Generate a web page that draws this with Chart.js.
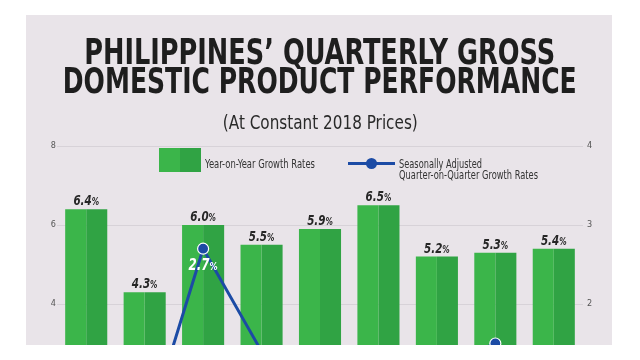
<!DOCTYPE html>
<html>
<head>
<meta charset="utf-8">
<script src="https://cdn.jsdelivr.net/npm/chart.js@4.4.1/dist/chart.umd.min.js"></script>
<style>
html, body { margin: 0; padding: 0; background: #fff; width: 640px; height: 360px; overflow: hidden; }
body { font-family: "Liberation Sans Narrow", "DejaVu Sans Condensed", "Liberation Sans", sans-serif; color: #1f1f1f; }
#panel { position: absolute; left: 26px; top: 15px; width: 586px; height: 330px; background: #e9e4e9; overflow: hidden; }
#chart { position: absolute; left: -26px; top: -15px; }
.t { position: absolute; white-space: nowrap; line-height: 1; }
.t.c { left: -500px; width: 1640px; text-align: center; }
.t span { display: inline-block; }
.t.c span { transform-origin: center; }
.t.l span { transform-origin: left; }
.title { font-size: 36px; font-weight: bold; color: #1e1e1e; }
.sub { font-size: 19px; color: #2a2a2a; }
.leg { font-size: 13px; color: #333; }
#sw { position: absolute; left: 159px; top: 148px; width: 42px; height: 24px; background: linear-gradient(90deg, #3bb54a 50%, #30a344 50%); }
#ln { position: absolute; left: 348px; top: 162px; width: 47px; height: 3px; background: #1c4ba5; }
#dot { position: absolute; left: 366px; top: 158px; width: 11px; height: 11px; border-radius: 50%; background: #1c4ba5; }
</style>
</head>
<body>
<div id="panel"><canvas id="chart" width="640" height="480"></canvas></div>

<div class="t c title" style="top:34px"><span data-w="471">PHILIPPINES’ QUARTERLY GROSS</span></div>
<div class="t c title" style="top:63px"><span data-w="514">DOMESTIC PRODUCT PERFORMANCE</span></div>
<div class="t c sub" style="top:113px"><span data-w="195">(At Constant 2018 Prices)</span></div>

<div id="sw"></div>
<div class="t l leg" style="left:205px;top:157px"><span data-w="110">Year-on-Year Growth Rates</span></div>
<div id="ln"></div><div id="dot"></div>
<div class="t l leg" style="left:399px;top:157px"><span data-w="83">Seasonally Adjusted</span></div>
<div class="t l leg" style="left:399px;top:168px"><span data-w="139">Quarter-on-Quarter Growth Rates</span></div>

<script>
// data (the lower part of the chart is cut off)
const quarters = ['Q1 2023', 'Q2 2023', 'Q3 2023', 'Q4 2023', 'Q1 2024', 'Q2 2024', 'Q3 2024', 'Q4 2024', 'Q1 2025'];
const yoyGrowth = [6.4, 4.3, 6.0, 5.5, 5.9, 6.5, 5.2, 5.3, 5.4];
const qoqGrowth = [1.0, 0.3, 2.7, 1.4, 1.3, 1.2, 1.2, 1.5, 0.8];
const yoyTicks = [0, 2, 4, 6, 8];
const qoqTicks = [0, 1, 2, 3, 4];

const FONT = '"Liberation Sans Narrow", "DejaVu Sans Condensed", "Liberation Sans", sans-serif';

// squeeze the html texts to the widths they have in the picture
document.querySelectorAll('.t span').forEach(function(s){
    const k = Number(s.dataset.w) / s.getBoundingClientRect().width;
    s.style.transform = 'scaleX(' + k + ')';
});

// "6.4%" style label, digits big and the % sign small, narrowed a bit
function drawPct(ctx, v, x, y, color, big, small){
    const num = v.toFixed(1);
    const sx = 0.82;
    ctx.font = 'italic bold ' + big + 'px ' + FONT;
    const w1 = ctx.measureText(num).width;
    ctx.font = 'italic bold ' + small + 'px ' + FONT;
    const w2 = ctx.measureText('%').width;
    ctx.save();
    ctx.translate(x, y);
    ctx.scale(sx, 1);
    const x0 = -(w1 + w2) / 2;
    ctx.fillStyle = color;
    ctx.textBaseline = 'alphabetic';
    ctx.textAlign = 'left';
    ctx.font = 'italic bold ' + big + 'px ' + FONT;
    ctx.fillText(num, x0, 0);
    ctx.font = 'italic bold ' + small + 'px ' + FONT;
    ctx.fillText('%', x0 + w1, 0);
    ctx.restore();
}

const valueLabels = {
    id: 'valueLabels',
    afterDatasetsDraw(chart){
        const ctx = chart.ctx;
        const a = chart.getDatasetMeta(1).data;
        const b = chart.getDatasetMeta(2).data;
        const p = chart.getDatasetMeta(0).data;
        yoyGrowth.forEach(function(v, i){
            drawPct(ctx, v, (a[i].x + b[i].x) / 2, a[i].y - 4, '#262626', 14, 10);
        });
        qoqGrowth.forEach(function(v, i){
            drawPct(ctx, v, p[i].x, p[i].y + 21, '#ffffff', 16, 11);
        });
    }
};

new Chart(document.getElementById('chart'), {
    data: {
        labels: quarters,
        datasets: [{
            type: 'line',
            label: 'Seasonally Adjusted Quarter-on-Quarter Growth Rates',
            data: qoqGrowth,
            yAxisID: 'y1',
            order: 0,
            borderColor: '#1c4ba5',
            borderWidth: 3,
            pointRadius: 5.5,
            pointBackgroundColor: '#1c4ba5',
            pointBorderColor: '#ffffff',
            pointBorderWidth: 1.2,
            tension: 0
        }, {
            type: 'bar',
            label: 'Year-on-Year Growth Rates',
            data: yoyGrowth,
            yAxisID: 'y',
            order: 1,
            backgroundColor: '#3bb54a',
            categoryPercentage: 0.72,
            barPercentage: 1
        }, {
            type: 'bar',
            label: 'Year-on-Year Growth Rates (shade)',
            data: yoyGrowth,
            yAxisID: 'y',
            order: 1,
            backgroundColor: '#30a344',
            categoryPercentage: 0.72,
            barPercentage: 1
        }]
    },
    options: {
        responsive: false,
        animation: false,
        devicePixelRatio: 1,
        layout: { padding: { top: 146, bottom: 18, left: 0, right: 0 } },
        plugins: { legend: { display: false }, tooltip: { enabled: false } },
        scales: {
            x: { display: false },
            y: {
                position: 'left',
                min: 0, max: 8,
                afterBuildTicks: function(s){ s.ticks = yoyTicks.map(v => ({ value: v })); },
                afterFit: function(s){ s.width = 57; },
                grid: { color: '#d7d2d8', lineWidth: 1, drawTicks: false },
                border: { display: false },
                ticks: { padding: 1, color: '#555', font: { size: 9, family: FONT } }
            },
            y1: {
                position: 'right',
                min: 0, max: 4,
                afterBuildTicks: function(s){ s.ticks = qoqTicks.map(v => ({ value: v })); },
                afterFit: function(s){ s.width = 57; },
                grid: { display: false, drawTicks: false },
                border: { display: false },
                ticks: { padding: 4, color: '#555', font: { size: 9, family: FONT } }
            }
        }
    },
    plugins: [valueLabels]
});
</script>
</body>
</html>
